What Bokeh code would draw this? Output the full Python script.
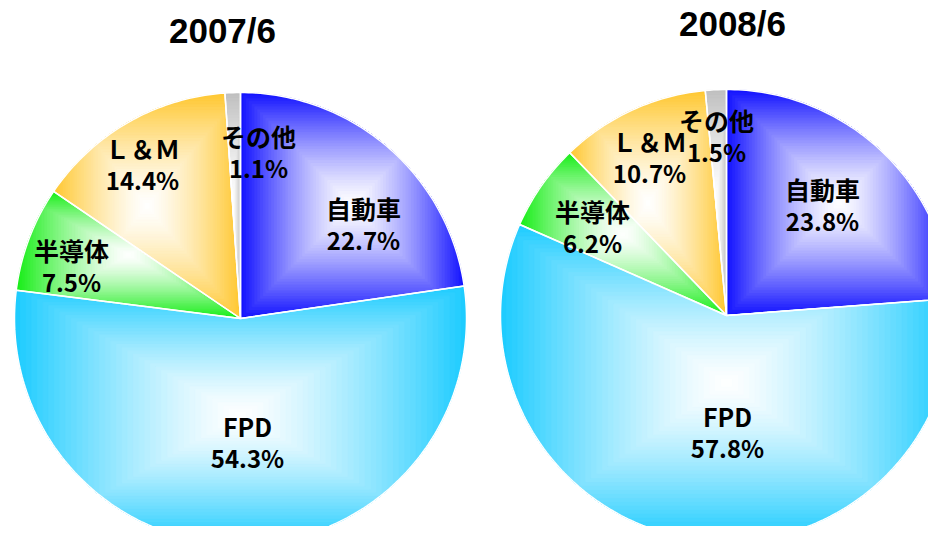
import math
from bokeh.plotting import figure
from bokeh.models import Range1d
from bokeh.core.properties import value
from bokeh.embed import file_html
from bokeh.resources import INLINE

# ---------------- data ----------------
categories = ["自動車", "FPD", "半導体", "Ｌ＆Ｍ", "その他"]
share_2007 = [22.7, 54.3, 7.5, 14.4, 1.1]
share_2008 = [23.8, 57.8, 6.2, 10.7, 1.5]
titles = ["2007/6", "2008/6"]

# ---------------- style / layout ----------------
slice_colors = [(20, 20, 255), (30, 204, 255), (25, 238, 25), (255, 200, 50), (192, 192, 192)]
pie_centers = [(240, 318), (726, 315)]
pie_radius = 226
title_pos = [(222, 30), (732, 23)]
# label anchor positions (name line) per pie, same order as categories
label_pos_2007 = [(363, 207), (247, 425), (71, 249), (142, 147), (258, 135)]
label_pos_2008 = [(822, 188), (727, 415), (592, 210), (649, 140), (716, 119)]
line_gap = 32

W, H = 928, 526
p = figure(width=W, height=H, output_backend="svg", toolbar_location=None,
           x_range=Range1d(0, W), y_range=Range1d(H, 0),
           min_border=0, outline_line_color=None)
p.axis.visible = False
p.grid.visible = False
p.background_fill_color = "white"
p.border_fill_color = "white"


def slice_polygon(cx, cy, r, a0, a1):
    # angles in degrees (math convention), going clockwise from a0 to a1 (a1 < a0)
    n = max(4, int(abs(a0 - a1) / 1.0))
    xs, ys = [cx], [cy]
    for i in range(n + 1):
        a = math.radians(a0 + (a1 - a0) * i / n)
        xs.append(cx + r * math.cos(a))
        ys.append(cy - r * math.sin(a))
    return xs, ys


def clip_rect(xs, ys, x0, x1, y0, y1):
    pts = list(zip(xs, ys))

    def clip(pts, inside, inter):
        out = []
        if not pts:
            return out
        prev = pts[-1]
        for cur in pts:
            if inside(cur):
                if not inside(prev):
                    out.append(inter(prev, cur))
                out.append(cur)
            elif inside(prev):
                out.append(inter(prev, cur))
            prev = cur
        return out

    def ix(xv):
        def f(a, b):
            t = (xv - a[0]) / (b[0] - a[0])
            return (xv, a[1] + t * (b[1] - a[1]))
        return f

    def iy(yv):
        def f(a, b):
            t = (yv - a[1]) / (b[1] - a[1])
            return (a[0] + t * (b[0] - a[0]), yv)
        return f

    pts = clip(pts, lambda q: q[0] >= x0, ix(x0))
    pts = clip(pts, lambda q: q[0] <= x1, ix(x1))
    pts = clip(pts, lambda q: q[1] >= y0, iy(y0))
    pts = clip(pts, lambda q: q[1] <= y1, iy(y1))
    return [q[0] for q in pts], [q[1] for q in pts]


def hexcol(c):
    return "#%02x%02x%02x" % tuple(int(round(max(0, min(255, v)))) for v in c)


N = 40
gamma = 1.35
grad_xs, grad_ys, grad_cols = [], [], []
out_xs, out_ys = [], []

for (cx, cy), shares in zip(pie_centers, [share_2007, share_2008]):
    total = sum(shares)
    a = 90.0
    for val, col in zip(shares, slice_colors):
        sweep = 360.0 * val / total
        xs, ys = slice_polygon(cx, cy, pie_radius, a, a - sweep)
        a -= sweep
        out_xs.append(xs)
        out_ys.append(ys)
        bx0, bx1, by0, by1 = min(xs), max(xs), min(ys), max(ys)
        mx, my = (bx0 + bx1) / 2, (by0 + by1) / 2
        hw, hh = (bx1 - bx0) / 2, (by1 - by0) / 2
        for k in range(N, 0, -1):
            t = k / N
            cxs, cys = clip_rect(xs, ys, mx - hw * t - 0.01, mx + hw * t + 0.01,
                                 my - hh * t - 0.01, my + hh * t + 0.01)
            if len(cxs) < 3:
                continue
            s = t ** gamma
            c = [255 + (cc - 255) * s for cc in col]
            grad_xs.append(cxs)
            grad_ys.append(cys)
            grad_cols.append(hexcol(c))

p.patches(grad_xs, grad_ys, fill_color=grad_cols, line_color=grad_cols, line_width=0.3)
p.patches(out_xs, out_ys, fill_color=None, line_color="white", line_width=1.5)

# labels
nx, ny, nt = [], [], []
vx, vy, vt = [], [], []
for shares, lpos in zip([share_2007, share_2008], [label_pos_2007, label_pos_2008]):
    for name, val, (x, y) in zip(categories, shares, lpos):
        nx.append(x)
        ny.append(y)
        nt.append(name)
        vx.append(x)
        vy.append(y + line_gap)
        vt.append("%.1f%%" % val)

p.text(nx, ny, text=nt, text_font=value("Noto Sans CJK JP"), text_font_style="bold",
       text_font_size="25px", text_align="center", text_baseline="middle", text_color="black")
p.text(vx, vy, text=vt, text_font=value("Noto Sans CJK JP"), text_font_style="bold",
       text_font_size="24px", text_align="center", text_baseline="middle", text_color="black")

p.text([q[0] for q in title_pos], [q[1] for q in title_pos], text=titles,
       text_font=value("Liberation Sans"), text_font_style="bold", text_font_size="35px",
       text_align="center", text_baseline="middle", text_color="black")

open("out.html", "w").write(file_html(p, INLINE))
